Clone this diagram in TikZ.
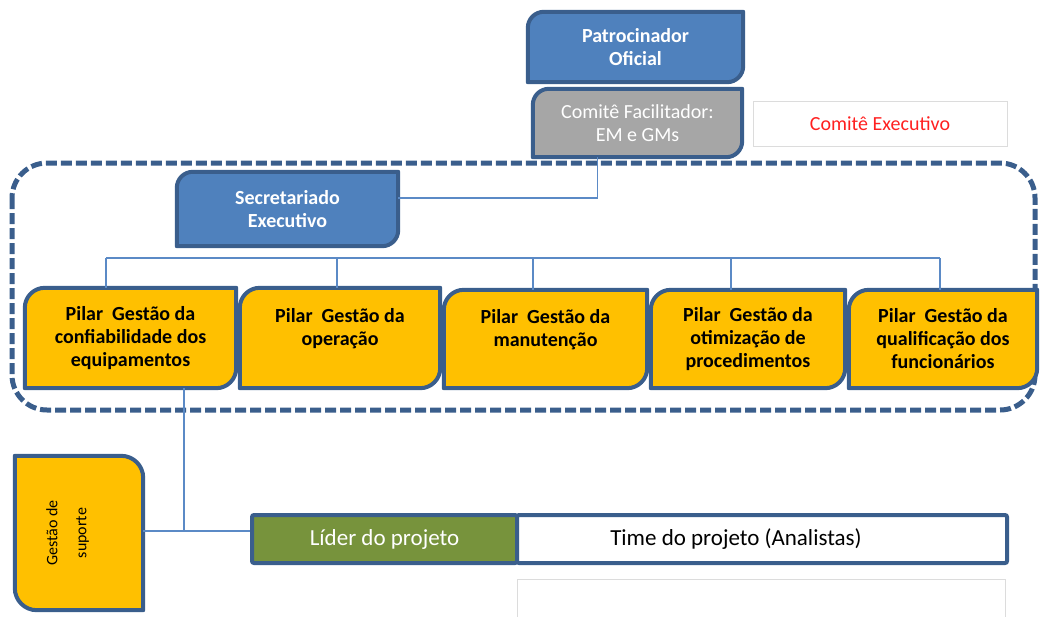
\documentclass[tikz,border=0pt]{standalone}
\usepackage{fontspec}
\setmainfont{Carlito}
\usetikzlibrary{backgrounds}
\definecolor{boxblue}{HTML}{4F81BD}
\definecolor{edgeblue}{HTML}{3A5E8C}
\definecolor{pillarfill}{HTML}{FFC000}
\definecolor{facgray}{HTML}{A6A6A6}
\definecolor{leadgreen}{HTML}{77933C}
\definecolor{linkblue}{HTML}{5B8AC6}
\definecolor{softgray}{HTML}{DCDCDC}
\definecolor{txtred}{HTML}{FF2020}

% box outline with rounded top-left and bottom-right corners
\newcommand\cornersTLBR[3]{%
  \draw[#3] (#1.south west) -- ([yshift=-#2]#1.north west)
    arc[start angle=180,end angle=90,radius=#2] -- (#1.north east)
    -- ([yshift=#2]#1.south east)
    arc[start angle=0,end angle=-90,radius=#2] -- cycle;}
% box outline with rounded top-right and bottom-left corners
\newcommand\cornersTRBL[3]{%
  \draw[#3] (#1.north west) -- ([xshift=-#2]#1.north east)
    arc[start angle=90,end angle=0,radius=#2] -- (#1.south east)
    -- ([xshift=#2]#1.south west)
    arc[start angle=270,end angle=180,radius=#2] -- cycle;}

\begin{document}
\begin{tikzpicture}[x=1pt,y=-1pt,
  lab/.style={align=center, inner sep=0pt, font=\fontsize{20}{23}\selectfont},
  boldlab/.style={lab, font=\fontsize{20}{23}\selectfont\bfseries},
  dims/.style 2 args={minimum width=#1pt, minimum height=#2pt},
  edge/.style={draw=edgeblue, line width=4pt, line join=round},
  conn/.style={draw=linkblue, line width=1.5pt},
  frame/.style={draw=edgeblue, line width=5pt, dash pattern=on 11pt off 4pt, rounded corners=35pt}]
\useasboundingbox (0,0) rectangle (1040,616);

% top of the hierarchy
\node[boldlab, dims={215}{70}, text=white] (pat) at (635.5,47) {Patrocinador\\Oficial};
\node[lab, dims={209}{68}, text=white] (fac) at (637.5,123) {Comitê Facilitador:\\EM e GMs};
\node[lab, dims={254}{45}, text=txtred, draw=softgray, line width=1pt] (exe) at (880,123.5) {Comitê Executivo};
\node[boldlab, dims={221}{74}, text=white] (sec) at (287.5,209) {Secretariado\\Executivo};

% the five pillars
\node[boldlab, dims={211}{100}] (p1) at (130.5,338) {Pilar\ \ Gestão da\\confiabilidade dos\\equipamentos};
\node[boldlab, dims={200}{100}] (p2) at (340,338) {Pilar\ \ Gestão da\\operação\\\mbox{}};
\node[boldlab, dims={203}{98}] (p3) at (545.5,339) {Pilar\ \ Gestão da\\manutenção\\\mbox{}};
\node[boldlab, dims={194}{98}] (p4) at (748,339) {Pilar\ \ Gestão da\\otimização de\\procedimentos};
\node[boldlab, dims={188}{98}] (p5) at (943,339) {Pilar\ \ Gestão da\\qualificação dos\\funcionários};

% support and project team
\node[lab, dims={128}{154}] (gs) at (79,533)
  {\rotatebox{90}{\fontsize{16}{29}\selectfont\begin{tabular}{@{}c@{}}Gestão de\\suporte\end{tabular}}\hspace*{26pt}};
\node[lab, dims={265}{48}, fill=leadgreen, draw=edgeblue, line width=4pt, rounded corners=2pt,
  text=white, font=\fontsize{23}{23}\selectfont] (lider) at (384.5,539) {Líder do projeto};
\node[lab, dims={490}{48}, fill=white, draw=edgeblue, line width=4pt, rounded corners=2pt,
  font=\fontsize{23}{23}\selectfont] (team) at (762,539) {Time do projeto (Analistas)\hspace*{52pt}};
\begin{scope}
  \clip (0,0) rectangle (1040,616);
  \node[dims={488}{52}, inner sep=0pt, draw=softgray, line width=1pt] (blank) at (761,605) {};
\end{scope}

% connectors
\draw[conn] ([xshift=-40pt]fac.south) |- ([yshift=11pt]sec.east);
\coordinate (b1) at (106,258);
\coordinate (b2) at (337,258);
\coordinate (b3) at (533,258);
\coordinate (b4) at (731,258);
\coordinate (b5) at (940,258);
\draw[conn] (b1) -- (b5);
\draw[conn] (b1) -- (b1 |- p1.north);
\draw[conn] (b2) -- (b2 |- p2.north);
\draw[conn] (b3) -- (b3 |- p3.north);
\draw[conn] (b4) -- (b4 |- p4.north);
\draw[conn] (b5) -- (b5 |- p5.north);
\coordinate (jn) at (184,531);
\draw[conn] (p1.south -| jn) -- (jn);
\draw[conn] (jn -| gs.east) -- (jn -| lider.west);

% box outlines behind the texts
\begin{scope}[on background layer]
  \draw[frame] (12,163) rectangle (1035,410);
  \cornersTLBR{pat}{16pt}{edge, fill=boxblue}
  \cornersTLBR{fac}{16pt}{edge, fill=facgray}
  \cornersTLBR{sec}{16pt}{edge, fill=boxblue}
  \cornersTLBR{p1}{20pt}{edge, fill=pillarfill}
  \cornersTLBR{p2}{20pt}{edge, fill=pillarfill}
  \cornersTLBR{p3}{20pt}{edge, fill=pillarfill}
  \cornersTLBR{p4}{20pt}{edge, fill=pillarfill}
  \cornersTLBR{p5}{20pt}{edge, fill=pillarfill}
  \cornersTRBL{gs}{22pt}{edge, fill=pillarfill}
\end{scope}
\end{tikzpicture}
\end{document}
